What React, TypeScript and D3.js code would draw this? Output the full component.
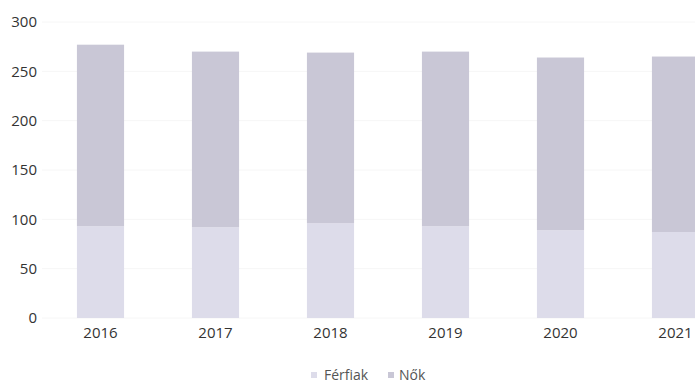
import React from "react";
import * as d3 from "d3";

const categories = ["2016", "2017", "2018", "2019", "2020", "2021"];
const ferfiak = [93, 92, 96, 93, 89, 87];
const nok = [184, 178, 173, 177, 175, 178];
const yTicks = [0, 50, 100, 150, 200, 250, 300];
const seriesNames = ["Férfiak", "Nők"];
const seriesColors = ["#dddcea", "#c9c7d6"];

const W = 695;
const H = 386;

export default function App() {
  const x = d3.scaleBand().domain(categories).range([43, 733]).paddingInner(0.59).paddingOuter(0.295);
  const y = d3.scaleLinear().domain([0, 300]).range([318, 22]);
  const data = categories.map((c, i) => ({ cat: c, Férfiak: ferfiak[i], Nők: nok[i] }));
  const stack = d3.stack<any>().keys(seriesNames)(data);
  const font = "'Open Sans', sans-serif";
  return (
    <svg width={W} height={H} style={{ position: "absolute", left: 0, top: 0, background: "#fff" }}>
      {yTicks.map((t) => (
        <g key={t}>
          <line x1={42} x2={W} y1={y(t)} y2={y(t)} stroke="#f6f6f6" strokeWidth={1} />
          <text x={37} y={y(t)} dy="0.35em" textAnchor="end" fontFamily={font} fontSize={15} fill="#333">
            {t}
          </text>
        </g>
      ))}
      {stack.map((s, si) => (
        <g key={si} fill={seriesColors[si]}>
          {s.map((d: any, i: number) => (
            <rect
              key={i}
              x={x(categories[i])}
              width={x.bandwidth()}
              y={y(d[1])}
              height={y(d[0]) - y(d[1])}
            />
          ))}
        </g>
      ))}
      {categories.map((c) => (
        <text key={c} x={(x(c) as number) + x.bandwidth() / 2} y={338} textAnchor="middle" fontFamily={font} fontSize={15} fill="#333">
          {c}
        </text>
      ))}
      <g fontFamily={font} fontSize={14} fill="#555">
        <rect x={311} y={372} width={6} height={6} fill={seriesColors[0]} />
        <text x={324} y={380}>{seriesNames[0]}</text>
        <rect x={388} y={372} width={6} height={6} fill={seriesColors[1]} />
        <text x={399} y={380}>{seriesNames[1]}</text>
      </g>
    </svg>
  );
}
